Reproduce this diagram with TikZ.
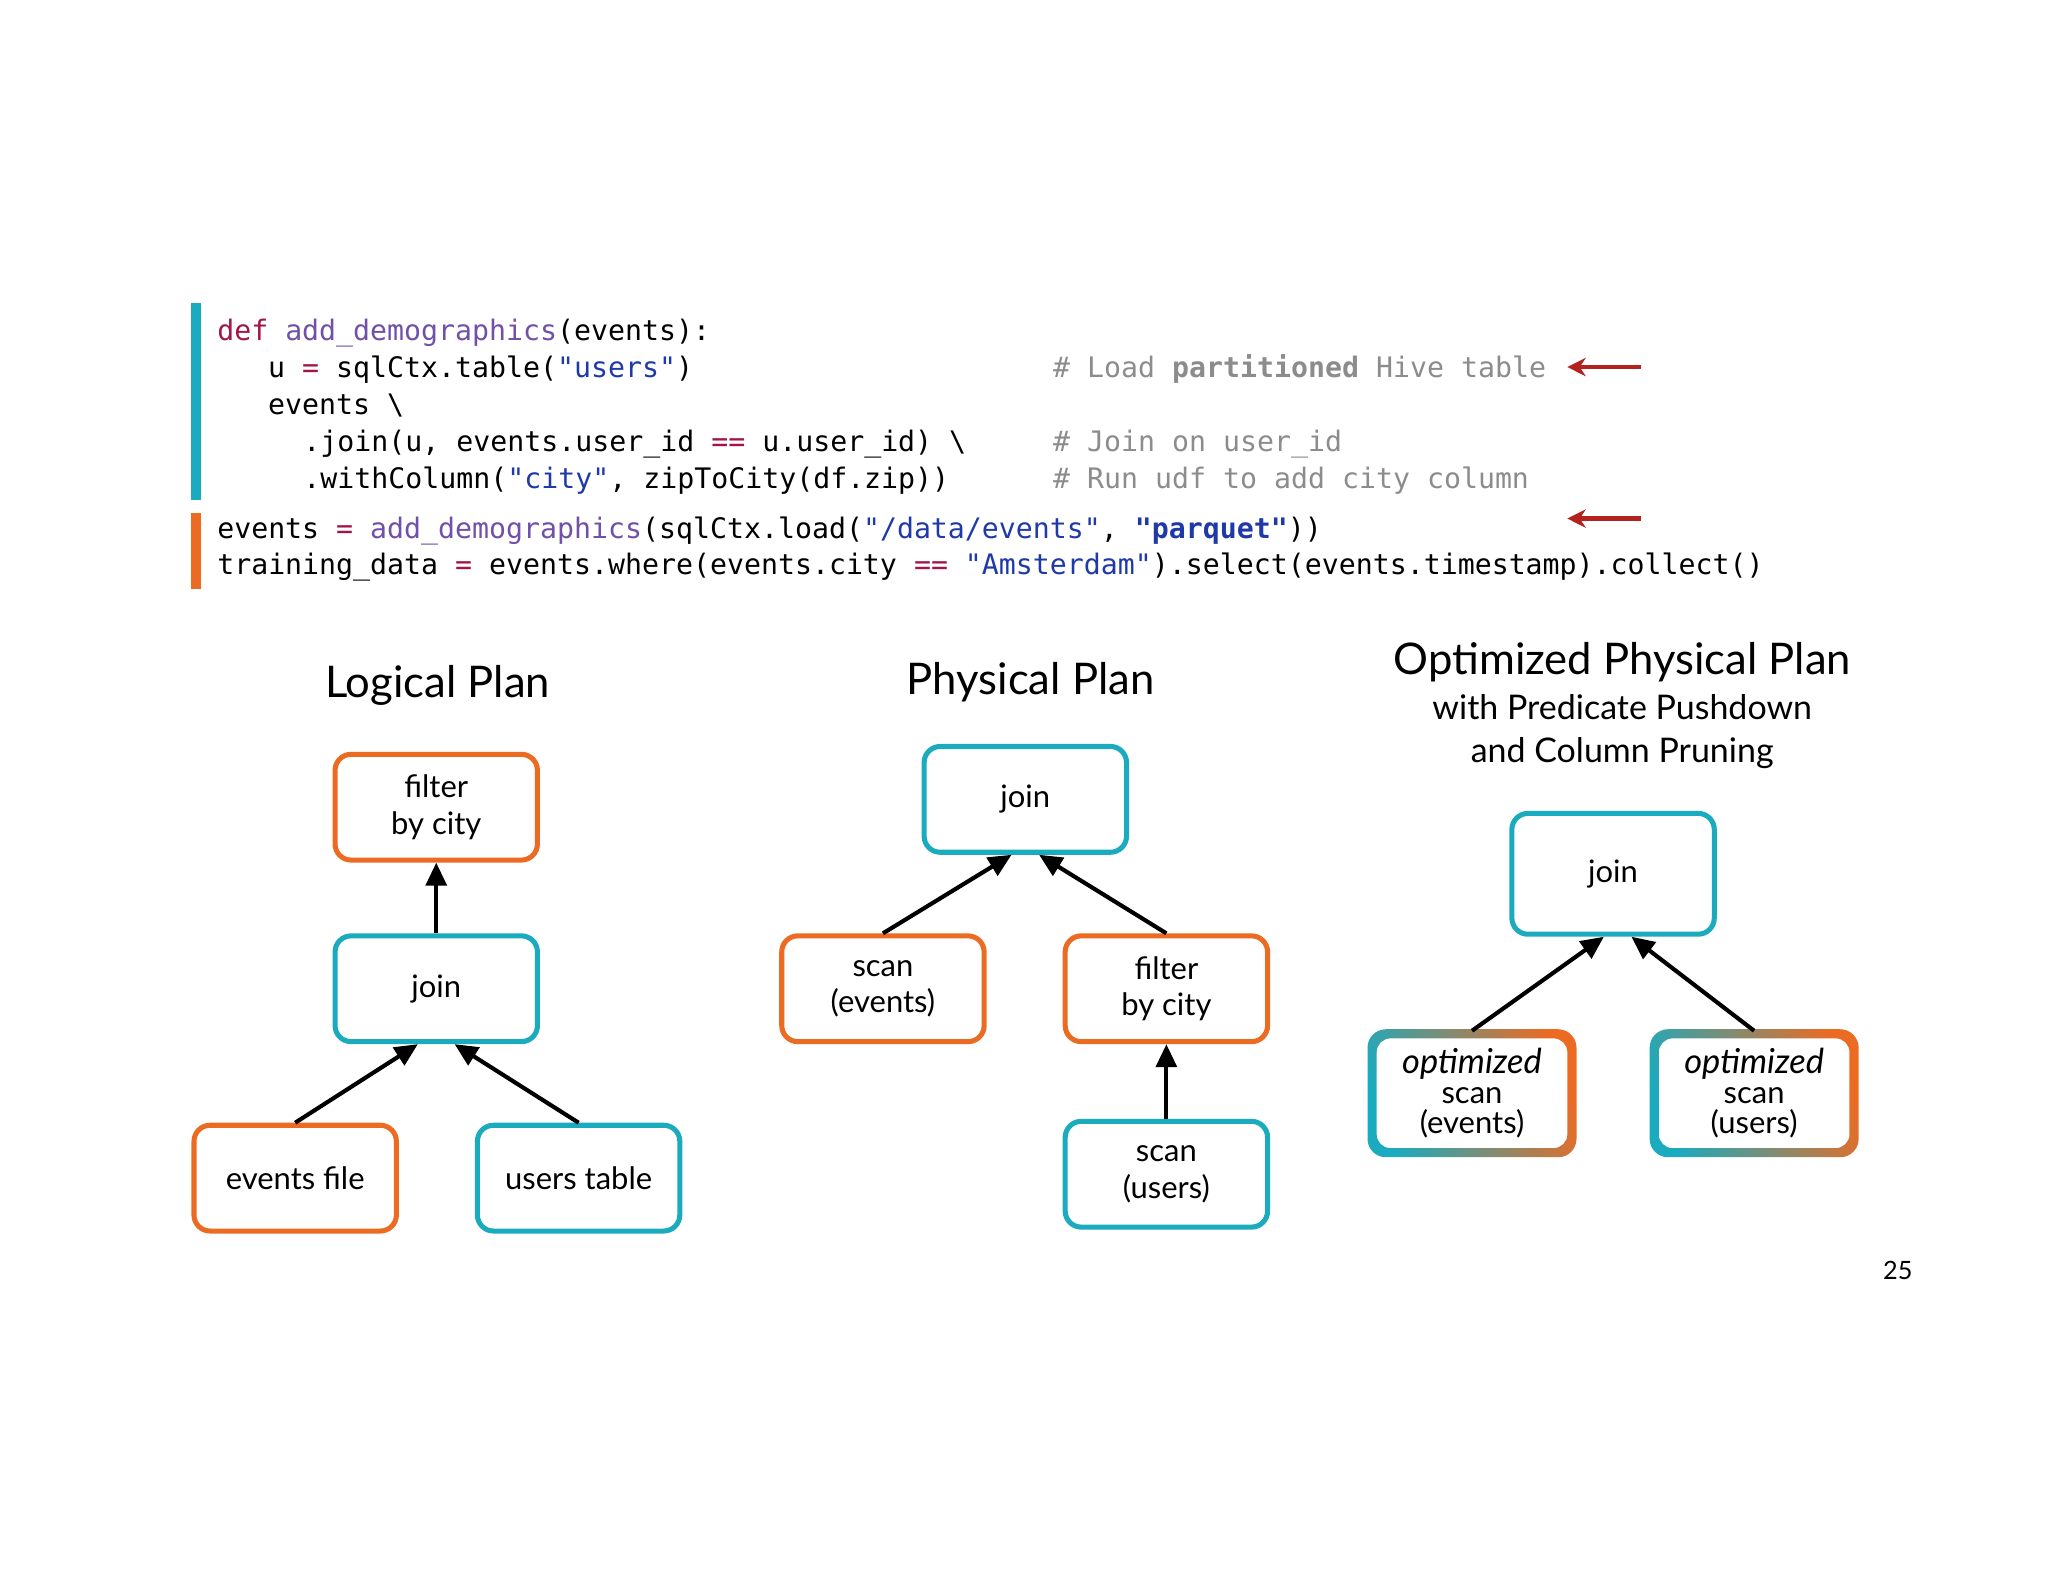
\documentclass[tikz,border=0pt]{standalone}
\usepackage{fontspec}
\setmainfont{Lato}
\newfontfamily\codef{DejaVu Sans Mono}
\usetikzlibrary{arrows.meta}
\definecolor{teal}{HTML}{1AABBF}
\definecolor{orng}{HTML}{EC6B23}
\definecolor{kw}{HTML}{A3154A}
\definecolor{fn}{HTML}{7050A8}
\definecolor{st}{HTML}{1F3AA8}
\definecolor{cm}{HTML}{8C8C8C}
\definecolor{arr}{HTML}{B3221E}
\newcommand{\K}[1]{\textcolor{kw}{#1}}
\newcommand{\F}[1]{\textcolor{fn}{#1}}
\newcommand{\Sq}[1]{\textcolor{st}{#1}}
\newcommand{\Cm}[1]{\textcolor{cm}{#1}}
\begin{document}
\begin{tikzpicture}[x=0.02cm,y=-0.02cm,
 code/.style={anchor=base west,inner sep=0pt,font=\codef\fontsize{12.3}{15}\selectfont},
 box/.style={draw,rounded corners=7pt,line width=2.2pt,minimum width=3.1cm,minimum height=1.62cm,align=center,font=\fontsize{13.5}{16}\selectfont,fill=white},
 ob/.style={box,draw=orng},
 tb/.style={box,draw=teal},
 title/.style={font=\fontsize{19}{23}\selectfont},
 ar/.style={line width=1.8pt,-{Triangle[length=10pt,width=9pt]}},
 rar/.style={arr,line width=1.8pt,-{Stealth[length=8pt,width=8pt]}}]
\useasboundingbox (0,0) rectangle (1568,1211);
% code bars
\fill[teal] (146,232) rectangle (154,383);
\fill[orng] (146,393) rectangle (154,451);
\node[code] (l1) at (166,261) {\K{def} \F{add\_demographics}(events):};
\node[code] (l2) at (205,289) {u \K{=} sqlCtx.table(\Sq{"users"})};
\node[code] (l3) at (205,317) {events \textbackslash};
\node[code] (l4) at (232,346) {.join(u, events.user\_id \K{==} u.user\_id) \textbackslash};
\node[code] (l5) at (232,374) {.withColumn(\Sq{"city"}, zipToCity(df.zip))};
\node[code] (l6) at (166,412) {events \K{=} \F{add\_demographics}(sqlCtx.load(\Sq{"/data/events"}, \Sq{\textbf{"parquet"}}))};
\node[code] (l7) at (166,440) {training\_data \K{=} events.where(events.city \K{==} \Sq{"Amsterdam"}).select(events.timestamp).collect()};
\node[code] (c1) at (806,289) {\Cm{\# Load \textbf{partitioned} Hive table}};
\node[code] (c2) at (806,346) {\Cm{\# Join on user\_id}};
\node[code] (c3) at (806,374) {\Cm{\# Run udf to add city column}};
\coordinate (a1s) at (1256,281); \coordinate (a1e) at (1200,281);
\coordinate (a2s) at (1256,397); \coordinate (a2e) at (1200,397);
\draw[rar] (a1s) -- (a1e);
\draw[rar] (a2s) -- (a2e);
% titles
\node[title] (t1) at (335,525) {Logical Plan};
\node[title] (t2) at (789,522) {Physical Plan};
\node[title] (t3) at (1242,507) {Optimized Physical Plan};
\node[font=\fontsize{14.8}{17}\selectfont,align=center] (t3b) at (1242,560) {with Predicate Pushdown\\[2pt]and Column Pruning};
% logical
\node[ob] (lf) at (334,618) {filter\\by city};
\node[tb] (lj) at (334,757) {join};
\node[ob] (le) at (226,902) {events file};
\node[tb] (lu) at (443,902) {users table};
\draw[ar] (lj.north) -- (lf.south);
\draw[ar] (le.north) -- ([xshift=-8]lj.south);
\draw[ar] (lu.north) -- ([xshift=8]lj.south);
% physical
\node[tb] (pj) at (785,612) {join};
\node[ob] (pe) at (676,757) {scan\\(events)};
\node[ob] (pf) at (893,757) {filter\\by city};
\node[tb] (pu) at (893,899) {scan\\(users)};
\draw[ar] (pe.north) -- ([xshift=-6]pj.south);
\draw[ar] (pf.north) -- ([xshift=6]pj.south);
\draw[ar] (pu.north) -- (pf.south);
% optimized
\node[tb,minimum height=1.85cm] (oj) at (1235,669) {join};
\foreach \n/\cx/\t in {oe/1127/events,ou/1343/users}{
  \shade[left color=teal,right color=orng,shading angle=110,even odd rule]
   [rounded corners=8pt] (\cx-80,788) rectangle (\cx+80,886)
   [rounded corners=6pt] (\cx-73,795) rectangle (\cx+73,879);
  \node[inner sep=0pt,minimum width=3.1cm,minimum height=1.9cm,align=center,font=\fontsize{13.5}{13}\selectfont] (\n) at (\cx,837) {\textit{\fontsize{15}{14}\selectfont optimized}\\scan\\(\t)};
}
\draw[ar] (oe.north) -- ([xshift=-4]oj.south);
\draw[ar] (ou.north) -- ([xshift=8]oj.south);
\node[font=\fontsize{11}{13}\selectfont] (pg) at (1453,973) {25};
\end{tikzpicture}
\end{document}
